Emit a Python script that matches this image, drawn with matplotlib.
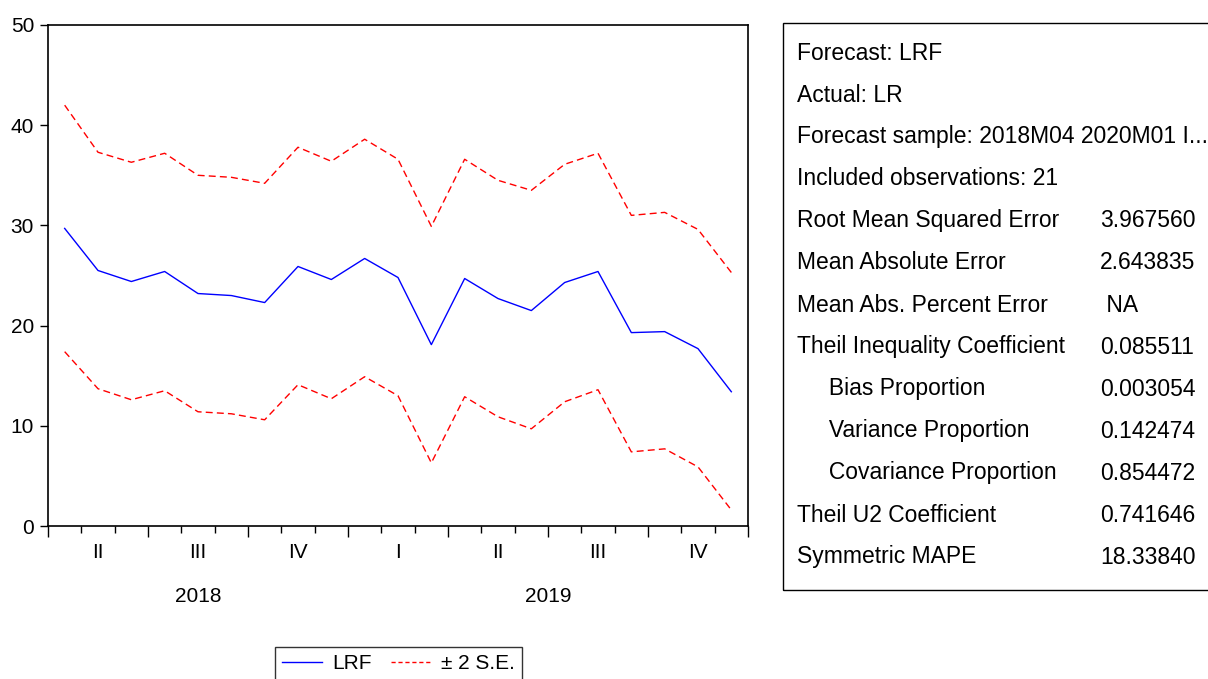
import numpy as np
import matplotlib
matplotlib.use('Agg')
import matplotlib.pyplot as plt
from matplotlib.patches import Rectangle
from matplotlib.lines import Line2D

plt.rcParams['font.family'] = ['Liberation Sans', 'DejaVu Sans']

## Forecast LRF, 2018M04 - 2019M12 (21 months)
lrf = [29.7, 25.5, 24.4, 25.4, 23.2, 23.0, 22.3, 25.9, 24.6, 26.7, 24.8,
       18.1, 24.7, 22.7, 21.5, 24.3, 25.4, 19.3, 19.4, 17.7, 13.4]
upper = [42.0, 37.3, 36.3, 37.2, 35.0, 34.8, 34.2, 37.8, 36.4, 38.6, 36.6,
         29.9, 36.6, 34.5, 33.5, 36.1, 37.2, 31.0, 31.3, 29.6, 25.3]
lower = [17.4, 13.7, 12.6, 13.5, 11.4, 11.2, 10.6, 14.1, 12.7, 14.9, 13.0,
         6.3, 12.9, 10.9, 9.7, 12.4, 13.6, 7.4, 7.7, 5.9, 1.6]
quarters = ['II', 'III', 'IV', 'I', 'II', 'III', 'IV']
years = ['2018', '2019']
year_months = [9, 12]   # months of each year in the sample
y_ticks = [0, 10, 20, 30, 40, 50]

stat_names = ['Root Mean Squared Error', 'Mean Absolute Error',
              'Mean Abs. Percent Error', 'Theil Inequality Coefficient',
              '     Bias Proportion', '     Variance Proportion',
              '     Covariance Proportion', 'Theil U2 Coefficient',
              'Symmetric MAPE']
stat_values = ['3.967560', '2.643835', ' NA', '0.085511', '0.003054',
               '0.142474', '0.854472', '0.741646', '18.33840']
header = ['Forecast: LRF', 'Actual: LR',
          'Forecast sample: 2018M04 2020M01 I...',
          'Included observations: 21']

W, H = 1208, 679
fig = plt.figure(figsize=(W/100, H/100), dpi=100)
ax = fig.add_axes([48/W, 1-526/H, 700/W, 501/H])

x = np.arange(len(lrf)) + 0.5
ax.plot(x, lrf, color='#0000ff', lw=1.0)
ax.plot(x, upper, color='#ff0000', lw=1.0, dashes=(5, 3))
ax.plot(x, lower, color='#ff0000', lw=1.0, dashes=(5, 3))

ax.set_xlim(0, len(lrf))
ax.set_ylim(0, 50)
ax.set_yticks(y_ticks)
ax.tick_params(axis='y', direction='out', length=6, width=1, pad=4, labelsize=15)
ax.set_xticks(np.arange(0, len(lrf)+1, 3))
ax.set_xticks(np.arange(0, len(lrf)+1, 1), minor=True)
ax.set_xticklabels([])
ax.tick_params(axis='x', which='major', direction='out', length=8, width=1)
ax.tick_params(axis='x', which='minor', direction='out', length=5, width=1)
for s in ax.spines.values():
    s.set_linewidth(1.2)

tr = ax.get_xaxis_transform()
for i, q in enumerate(quarters):
    ax.text(1.5 + 3*i, -0.052, q, transform=tr, ha='center', va='center', fontsize=15)
start = 0
for yr, n in zip(years, year_months):
    ax.text(start + n/2, -0.14, yr, transform=tr, ha='center', va='center', fontsize=15)
    start += n

## Legend
handles = [Line2D([], [], color='#0000ff', lw=1.0),
           Line2D([], [], color='#ff0000', lw=1.0, dashes=(3, 2))]
leg = fig.legend(handles, ['LRF', '± 2 S.E.'], loc='upper left',
                 bbox_to_anchor=(275/W, 1-647/H), ncol=2, fontsize=15,
                 frameon=True, fancybox=False, handlelength=1.9,
                 handletextpad=0.5, columnspacing=0.9, borderpad=0.35,
                 borderaxespad=0)
leg.get_frame().set_edgecolor('black')
leg.get_frame().set_linewidth(1.0)

## Statistics box
fig.patches.append(Rectangle((783/W, 1-590/H), 500/W, 567/H, transform=fig.transFigure,
                             fill=False, edgecolor='black', lw=1.0))
rows = header + stat_names
for i, t in enumerate(rows):
    yy = 1 - (53 + 42*i)/H
    fig.text(797/W, yy, t, ha='left', va='center', fontsize=16.5)
for i, v in enumerate(stat_values):
    yy = 1 - (53 + 42*(i + len(header)))/H
    fig.text(1100/W, yy, v, ha='left', va='center', fontsize=16.5)

fig.savefig('out.png', dpi=100)
